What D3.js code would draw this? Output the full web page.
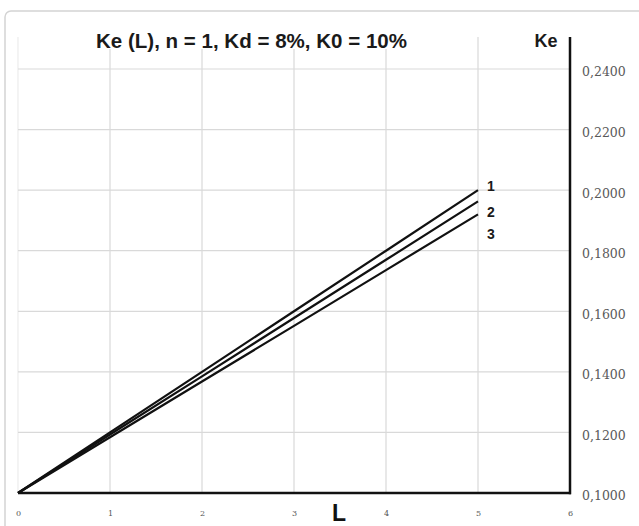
<!DOCTYPE html>
<html>
<head>
<meta charset="utf-8">
<script src="https://cdn.jsdelivr.net/npm/d3@7"></script>
<style>
  html, body { margin: 0; padding: 0; background: #fff; }
  svg { display: block; }
</style>
</head>
<body>
<svg id="chart" width="639" height="526"></svg>
<script>
// ---- data ----
const Lvalues = [0, 1, 2, 3, 4, 5];
const series1 = [0.1000, 0.1200, 0.1400, 0.1600, 0.1800, 0.2000];
const series2 = [0.1000, 0.1193, 0.1385, 0.1578, 0.1770, 0.1963];
const series3 = [0.1000, 0.1184, 0.1368, 0.1552, 0.1736, 0.1920];
const seriesNames = ["1", "2", "3"];
const xTicks = [0, 1, 2, 3, 4, 5, 6];
const yTicks = [0.10, 0.12, 0.14, 0.16, 0.18, 0.20, 0.22, 0.24];
const titleText = "Ke (L), n = 1, Kd = 8%, K0 = 10%";
const xTitle = "L";
const yTitle = "Ke";

const svg = d3.select("#chart");

// outer chart border
svg.append("rect")
  .attr("x", 5).attr("y", 11).attr("width", 700).attr("height", 600)
  .attr("rx", 6).attr("fill", "#fff")
  .attr("stroke", "#d4d4d4").attr("stroke-width", 1.5);

const x = d3.scaleLinear().domain([0, 6]).range([18, 570]);
const y = d3.scaleLinear().domain([0.10, 0.24]).range([493, 69]);
const yTop = 37;

// gridlines
const grid = svg.append("g");
grid.selectAll("line.v").data(xTicks.slice(0, 6)).join("line")
  .attr("x1", d => x(d)).attr("x2", d => x(d))
  .attr("y1", yTop).attr("y2", y(0.10))
  .attr("stroke", d => d === 0 ? "#ececec" : "#d9d9d9").attr("stroke-width", 1.2);
grid.selectAll("line.h").data(yTicks.slice(1)).join("line")
  .attr("x1", x(0)).attr("x2", x(6))
  .attr("y1", d => y(d)).attr("y2", d => y(d))
  .attr("stroke", "#d9d9d9").attr("stroke-width", 1.2);

// title with white background
const title = svg.append("text")
  .attr("x", 96).attr("y", 48)
  .attr("font-family", "Liberation Sans, Arial, sans-serif")
  .attr("font-weight", "bold").attr("font-size", 20)
  .attr("fill", "#1a1a1a")
  .attr("textLength", 311).attr("lengthAdjust", "spacingAndGlyphs")
  .text(titleText);
svg.insert("rect", "text")
  .attr("x", 94).attr("y", 30).attr("width", 316).attr("height", 19)
  .attr("fill", "#fff");

// lines
const line = d3.line().x((d, i) => x(Lvalues[i])).y(d => y(d));
const allSeries = [series1, series2, series3];
svg.append("g").selectAll("path").data(allSeries).join("path")
  .attr("d", d => line(d))
  .attr("fill", "none").attr("stroke", "#111").attr("stroke-width", 2.2)
  .attr("stroke-linejoin", "round");

// series labels
const labelOffsets = [-3, 12, 21];
svg.append("g").selectAll("text").data(allSeries).join("text")
  .attr("x", x(5) + 9)
  .attr("y", (d, i) => y(d[d.length - 1]) + labelOffsets[i])
  .attr("dominant-baseline", "middle")
  .attr("font-family", "Liberation Sans, Arial, sans-serif")
  .attr("font-weight", "bold").attr("font-size", 14)
  .attr("fill", "#1a1a1a")
  .text((d, i) => seriesNames[i]);

// x axis
const xAxis = svg.append("g").attr("transform", `translate(0,${y(0.10)})`)
  .call(d3.axisBottom(x).tickValues(xTicks).tickSize(0).tickPadding(17).tickFormat(d3.format("d")));
xAxis.select(".domain").remove();
xAxis.selectAll("text")
  .attr("font-family", "DejaVu Serif, serif").attr("font-size", 8).attr("fill", "#555");
svg.append("line")
  .attr("x1", x(0)).attr("x2", x(6) + 1)
  .attr("y1", y(0.10)).attr("y2", y(0.10))
  .attr("stroke", "#111").attr("stroke-width", 2.5);

// y axis (right)
const yAxis = svg.append("g").attr("transform", `translate(${x(6)},0)`)
  .call(d3.axisRight(y).tickValues(yTicks).tickSize(0).tickPadding(12)
    .tickFormat(d => d3.format(".4f")(d).replace(".", ",")));
yAxis.select(".domain").remove();
yAxis.selectAll("text")
  .attr("font-family", "DejaVu Serif, serif").attr("font-size", 12.5)
  .attr("fill", "#595959").attr("dy", "0.55em");
svg.append("line")
  .attr("x1", x(6)).attr("x2", x(6))
  .attr("y1", yTop).attr("y2", y(0.10) + 1.2)
  .attr("stroke", "#111").attr("stroke-width", 2.5);

// axis titles
svg.append("text")
  .attr("x", 546).attr("y", 47).attr("text-anchor", "middle")
  .attr("font-family", "Liberation Sans, Arial, sans-serif")
  .attr("font-weight", "bold").attr("font-size", 18).attr("fill", "#1a1a1a")
  .text(yTitle);
svg.append("text")
  .attr("x", 339).attr("y", 521).attr("text-anchor", "middle")
  .attr("font-family", "Liberation Sans, Arial, sans-serif")
  .attr("font-weight", "bold").attr("font-size", 23).attr("fill", "#111")
  .text(xTitle);
</script>
</body>
</html>
